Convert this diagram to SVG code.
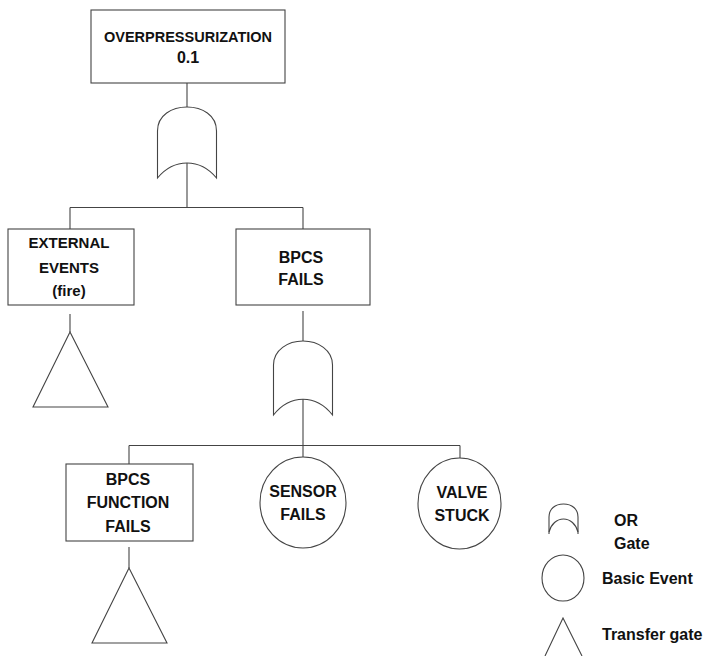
<svg xmlns="http://www.w3.org/2000/svg" width="703" height="656" viewBox="0 0 703 656">
<style>
.s{fill:none;stroke:#444;stroke-width:1.1}
.b{fill:#fff;stroke:#444;stroke-width:1.1}
text{font-family:"Liberation Sans",Arial,sans-serif;font-weight:bold;fill:#111;text-anchor:middle}
.t16{font-size:16px}
.t15{font-size:15px}
.t14{font-size:14.5px}
.lg{font-size:16px;text-anchor:start}
</style>
<rect width="703" height="656" fill="#fff"/>
<g id="connectors" class="s">
<line x1="187" y1="83" x2="187" y2="107"/>
<line x1="187" y1="163" x2="187" y2="207.5"/>
<line x1="70" y1="207.5" x2="303" y2="207.5"/>
<line x1="70" y1="207.5" x2="70" y2="229"/>
<line x1="303" y1="207.5" x2="303" y2="229"/>
<line x1="70" y1="314" x2="70" y2="332"/>
<line x1="303" y1="311" x2="303" y2="341"/>
<line x1="303" y1="399" x2="303" y2="457"/>
<line x1="129" y1="445.5" x2="460" y2="445.5"/>
<line x1="129" y1="445.5" x2="129" y2="464"/>
<line x1="460" y1="445.5" x2="460" y2="458"/>
<line x1="129" y1="547" x2="129" y2="568"/>
</g>
<g id="top-event">
<rect class="b" x="91" y="10" width="194" height="73"/>
<text class="t14" x="188" y="42">OVERPRESSURIZATION</text>
<text class="t16" x="188" y="63">0.1</text>
</g>
<g id="or-gate-1">
<path class="s" d="M157.5,178 L157.5,131 C157.5,115 172,107 187,107 C202,107 216.5,115 216.5,131 L216.5,178 C200,158 174,158 157.5,178 Z"/>
</g>
<g id="external-events">
<rect class="b" x="8" y="229" width="126" height="76"/>
<text class="t15" x="69" y="248">EXTERNAL</text>
<text class="t15" x="69" y="273">EVENTS</text>
<text class="t15" x="69" y="296">(fire)</text>
</g>
<g id="transfer-1">
<polygon class="s" points="70,332 33,407 108,407"/>
</g>
<g id="bpcs-fails">
<rect class="b" x="236" y="229" width="134" height="76"/>
<text class="t16" x="301" y="263">BPCS</text>
<text class="t16" x="301" y="285">FAILS</text>
</g>
<g id="or-gate-2">
<path class="s" d="M273.5,415 L273.5,365 C273.5,350 288,341 303,341 C318,341 332.5,350 332.5,365 L332.5,415 C316,394 290,394 273.5,415 Z"/>
</g>
<g id="bpcs-function-fails">
<rect class="b" x="66" y="464" width="127" height="77"/>
<text class="t16" x="128" y="485">BPCS</text>
<text class="t16" x="128" y="508">FUNCTION</text>
<text class="t16" x="128" y="532">FAILS</text>
</g>
<g id="transfer-2">
<polygon class="s" points="129,568 92,643 167,643"/>
</g>
<g id="sensor-fails">
<ellipse class="b" cx="303" cy="502.5" rx="43" ry="45.5"/>
<text class="t16" x="303" y="497">SENSOR</text>
<text class="t16" x="303" y="520">FAILS</text>
</g>
<g id="valve-stuck">
<ellipse class="b" cx="459.5" cy="503.5" rx="41.5" ry="45.5"/>
<text class="t16" x="462" y="498">VALVE</text>
<text class="t16" x="462" y="521">STUCK</text>
</g>
<g id="legend">
<path class="s" d="M549,534 L549,517 C549,509 555,504 563.5,504 C572,504 578,509 578,517 L578,534"/>
<path class="s" d="M549,532 C551,524 557,519 563.5,519 C570,519 576,524 578,532"/>
<text class="lg" x="614" y="526">OR</text>
<text class="lg" x="614" y="549">Gate</text>
<ellipse class="s" cx="563" cy="578" rx="21" ry="23"/>
<text class="lg" x="602" y="584">Basic Event</text>
<polyline class="s" points="545,656 563,618 582,656"/>
<text class="lg" x="602" y="640">Transfer gate</text>
</g>
</svg>
